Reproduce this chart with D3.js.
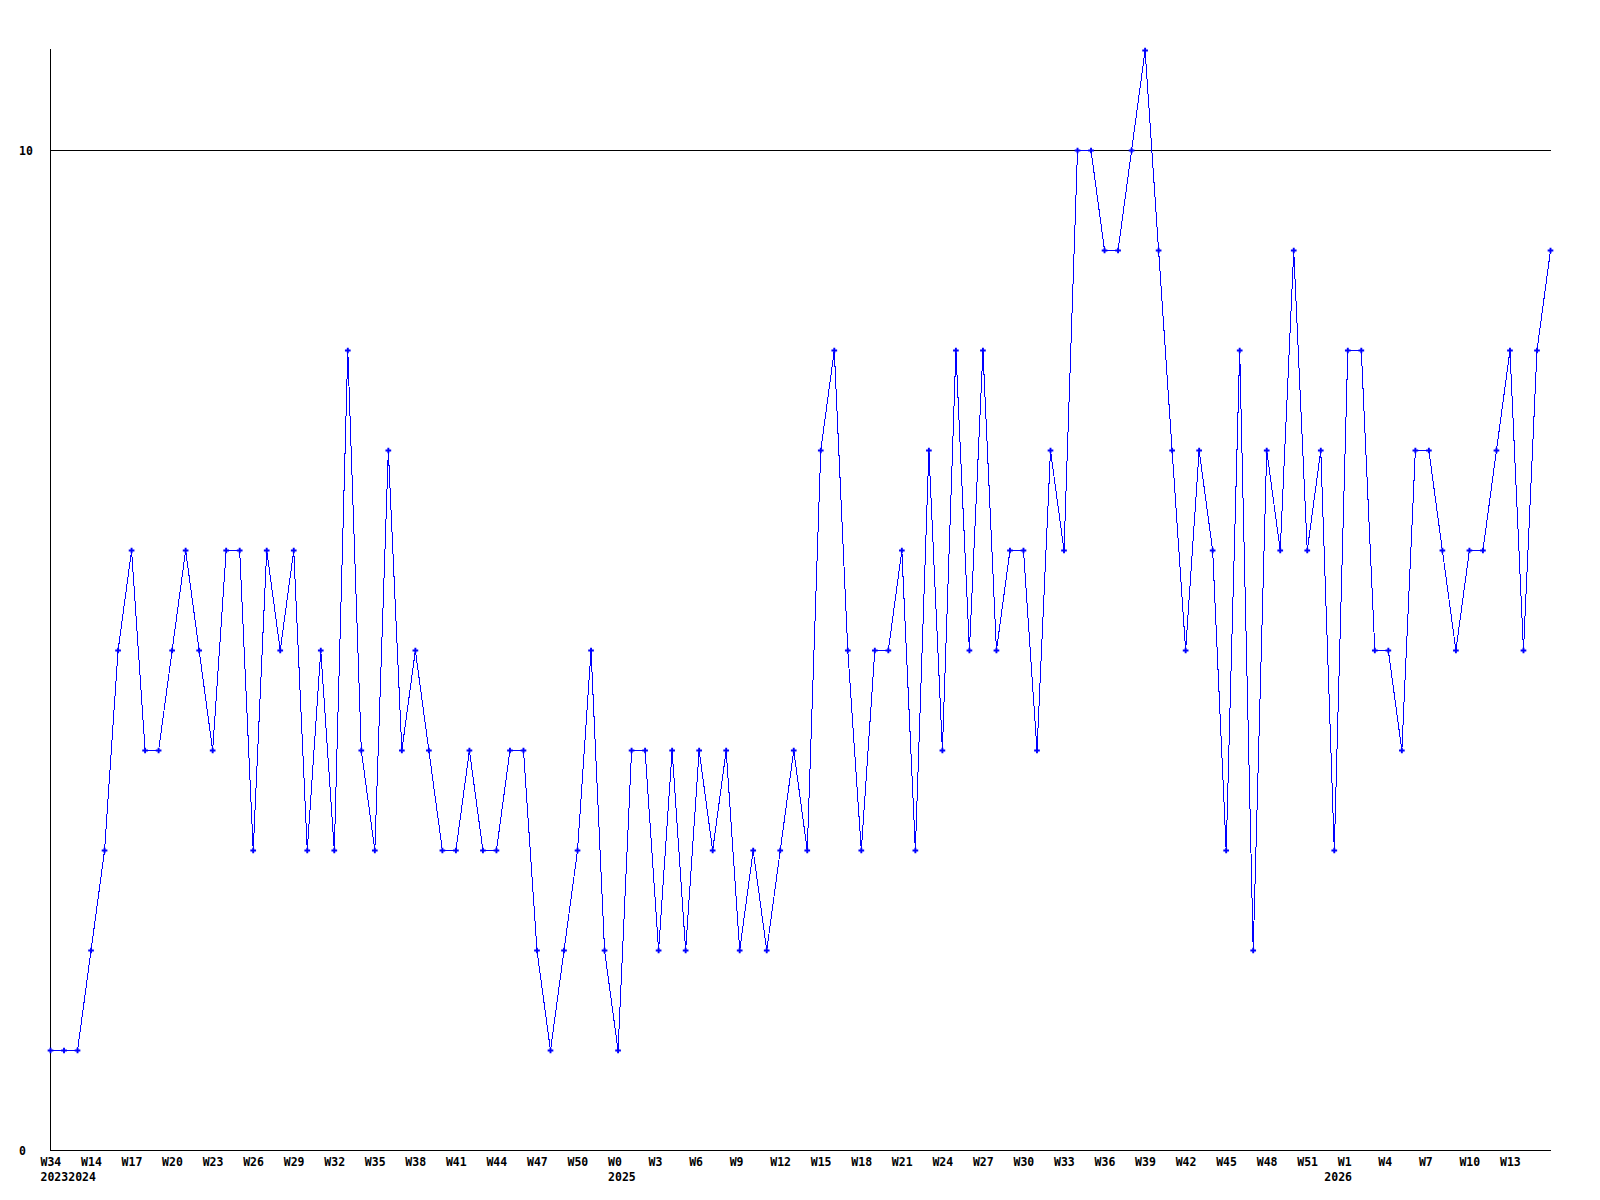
<!DOCTYPE html>
<html>
<head>
<meta charset="utf-8">
<script src="https://cdn.jsdelivr.net/npm/d3@7"></script>
<style>
  html, body { margin: 0; padding: 0; background: #ffffff; }
  svg { display: block; }
  text { font-family: "DejaVu Sans Mono", "Liberation Mono", monospace; font-weight: bold; font-size: 11.5px; fill: #000; }
</style>
</head>
<body>
<svg id="chart" width="1600" height="1200"></svg>
<script>
// Weekly values, one per point (index 0 = 2023 W34, then 2024 W12 ... 2026 W16)
const values = [
  1, 1, 1, 2, 3, 5, 6, 4, 4, 5,
  6, 5, 4, 6, 6, 3, 6, 5, 6, 3,
  5, 3, 8, 4, 3, 7, 4, 5, 4, 3,
  3, 4, 3, 3, 4, 4, 2, 1, 2, 3,
  5, 2, 1, 4, 4, 2, 4, 2, 4, 3,
  4, 2, 3, 2, 3, 4, 3, 7, 8, 5,
  3, 5, 5, 6, 3, 7, 4, 8, 5, 8,
  5, 6, 6, 4, 7, 6, 10, 10, 9, 9,
  10, 11, 9, 7, 5, 7, 6, 3, 8, 2,
  7, 6, 9, 6, 7, 3, 8, 8, 5, 5,
  4, 7, 7, 6, 5, 6, 6, 7, 8, 5,
  8, 9
];

// Tick labels: one every 3 points starting at index 0
const tickLabels = [
  "W34", "W14", "W17", "W20", "W23", "W26", "W29", "W32", "W35", "W38",
  "W41", "W44", "W47", "W50", "W0", "W3", "W6", "W9", "W12", "W15",
  "W18", "W21", "W24", "W27", "W30", "W33", "W36", "W39", "W42", "W45",
  "W48", "W51", "W1", "W4", "W7", "W10", "W13"
];
const tickStep = 3;

// Year labels and the point index where each year starts
const yearLabels = ["2023", "2024", "2025", "2026"];
const yearIndex = [0, 1, 42, 95];

// Y axis labelled values
const yTickValues = [0, 10];
const yGridValues = [10];

const svg = d3.select("#chart");

const x = d3.scaleLinear().domain([0, values.length - 1]).range([50.5, 1550.5]);
const y = d3.scaleLinear().domain([0, 11]).range([1150.5, 50.5]);

const blue = "#0000ff";

// grid line at 10
svg.append("g").selectAll("line.grid").data(yGridValues).join("line")
  .attr("x1", x(0)).attr("x2", x(values.length - 1))
  .attr("y1", d => y(d)).attr("y2", d => y(d))
  .attr("stroke", "#000").attr("stroke-width", 1).attr("shape-rendering", "crispEdges");

// axes lines
svg.append("line")
  .attr("x1", x(0)).attr("x2", x(0))
  .attr("y1", y(0)).attr("y2", y(11) - 2)
  .attr("stroke", "#000").attr("stroke-width", 1).attr("shape-rendering", "crispEdges");
svg.append("line")
  .attr("x1", x(0)).attr("x2", x(values.length - 1))
  .attr("y1", y(0)).attr("y2", y(0))
  .attr("stroke", "#000").attr("stroke-width", 1).attr("shape-rendering", "crispEdges");

// y labels
svg.append("g").selectAll("text").data(yTickValues).join("text")
  .attr("x", 19)
  .attr("y", d => y(d) + 4)
  .text(d => d);

// x tick labels
const tickG = svg.append("g");
tickG.selectAll("text").data(tickLabels).join("text")
  .attr("x", (d, i) => x(i * tickStep) - 10)
  .attr("y", 1166)
  .text(d => d);

// year labels, avoiding overlap
const yearG = svg.append("g");
let prevEnd = -Infinity;
yearLabels.forEach((lab, k) => {
  const t = yearG.append("text").attr("y", 1181).text(lab);
  const want = x(yearIndex[k]) - 10;
  const left = Math.max(want, prevEnd);
  t.attr("x", left);
  prevEnd = left + t.node().getComputedTextLength();
});

// line
const line = d3.line().x((d, i) => x(i)).y(d => y(d));
svg.append("path")
  .datum(values)
  .attr("d", line)
  .attr("fill", "none")
  .attr("stroke", blue)
  .attr("stroke-width", 1)
  .attr("shape-rendering", "crispEdges");

// markers
const sym = d3.symbol().type(d3.symbolCross).size(18);
svg.append("g").selectAll("path").data(values).join("path")
  .attr("transform", (d, i) => `translate(${x(i)},${y(d)})`)
  .attr("d", sym)
  .attr("fill", blue);
</script>
</body>
</html>
